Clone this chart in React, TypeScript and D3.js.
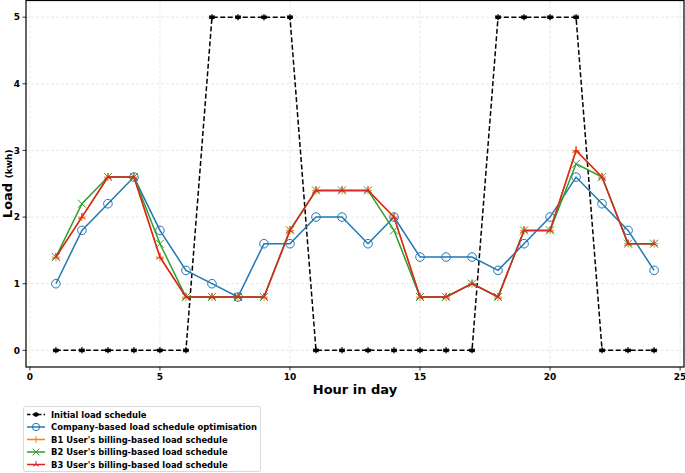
import React from "react";
import * as d3 from "d3";

const hours = d3.range(1, 25);
const initialLoad = [0, 0, 0, 0, 0, 0, 5, 5, 5, 5, 0, 0, 0, 0, 0, 0, 0, 5, 5, 5, 5, 0, 0, 0];
const companyLoad = [1.0, 1.8, 2.2, 2.6, 1.8, 1.2, 1.0, 0.8, 1.6, 1.6, 2.0, 2.0, 1.6, 2.0, 1.4, 1.4, 1.4, 1.2, 1.6, 2.0, 2.6, 2.2, 1.8, 1.2];
const b1Load = [1.4, 2.0, 2.6, 2.6, 1.4, 0.8, 0.8, 0.8, 0.8, 1.8, 2.4, 2.4, 2.4, 2.0, 0.8, 0.8, 1.0, 0.8, 1.8, 1.8, 3.0, 2.6, 1.6, 1.6];
const b2Load = [1.4, 2.2, 2.6, 2.6, 1.6, 0.8, 0.8, 0.8, 0.8, 1.8, 2.4, 2.4, 2.4, 1.8, 0.8, 0.8, 1.0, 0.8, 1.8, 1.8, 2.8, 2.6, 1.6, 1.6];
const b3Load = [1.4, 2.0, 2.6, 2.6, 1.4, 0.8, 0.8, 0.8, 0.8, 1.8, 2.4, 2.4, 2.4, 2.0, 0.8, 0.8, 1.0, 0.8, 1.8, 1.8, 3.0, 2.6, 1.6, 1.6];
const xTicks = [0, 5, 10, 15, 20, 25];
const yTicks = [0, 1, 2, 3, 4, 5];
const legendLabels = [
  "Initial load schedule",
  "Company-based load schedule optimisation",
  "B1 User's billing-based load schedule",
  "B2 User's billing-based load schedule",
  "B3 User's billing-based load schedule",
];

const W = 685, H = 473;
const left = 26, right = 684, top = 0.5, bottom = 367;
const FONT = "'DejaVu Sans', sans-serif";

type MarkerKind = "star" | "circle" | "plus" | "x" | "tri";

function Marker({ kind, x, y, color, scale = 1 }: { kind: MarkerKind; x: number; y: number; color: string; scale?: number }) {
  const s = 4 * scale;
  if (kind === "star") {
    const r0 = 3 * scale;
    const arms = [0, 60, 120].map((a) => {
      const r = (a * Math.PI) / 180;
      return `M${x - r0 * Math.sin(r)},${y - r0 * Math.cos(r)}L${x + r0 * Math.sin(r)},${y + r0 * Math.cos(r)}`;
    });
    return <path d={arms.join("") + `M${x - r0},${y}L${x + r0},${y}`} stroke={color} strokeWidth={1.4} fill="none" />;
  }
  if (kind === "circle") return <circle cx={x} cy={y} r={4.3 * scale} fill="none" stroke={color} strokeWidth={1} />;
  if (kind === "plus") return <path d={`M${x - s},${y}L${x + s},${y}M${x},${y - s}L${x},${y + s}`} stroke={color} strokeWidth={1} />;
  if (kind === "x") return <path d={`M${x - s},${y - s}L${x + s},${y + s}M${x - s},${y + s}L${x + s},${y - s}`} stroke={color} strokeWidth={1} />;
  const a = 4.2 * scale;
  return (
    <path
      d={`M${x},${y}L${x},${y - a}M${x},${y}L${x - a * 0.866},${y + a * 0.5}M${x},${y}L${x + a * 0.866},${y + a * 0.5}`}
      stroke={color}
      strokeWidth={1}
    />
  );
}

export default function App() {
  const x = d3.scaleLinear().domain([-0.15, 25.15]).range([left, right]);
  const y = d3.scaleLinear().domain([-0.25, 5.25]).range([bottom, top]);
  const line = d3
    .line<number>()
    .x((_, i) => x(hours[i]))
    .y((d) => y(d));

  const series: { data: number[]; color: string; marker: MarkerKind; dash?: string }[] = [
    { data: initialLoad, color: "#000000", marker: "star", dash: "5,2.5" },
    { data: companyLoad, color: "#1f77b4", marker: "circle" },
    { data: b1Load, color: "#ff7f0e", marker: "plus" },
    { data: b2Load, color: "#2ca02c", marker: "x" },
    { data: b3Load, color: "#d62728", marker: "tri" },
  ];

  return (
    <svg width={W} height={H} style={{ position: "absolute", left: 0, top: 0, background: "#fff" }} fontFamily={FONT}>
      {xTicks.map((t) => (
        <line key={"gx" + t} x1={x(t)} x2={x(t)} y1={top} y2={bottom} stroke="#c8c8c8" strokeOpacity={0.55} strokeDasharray="3,2" strokeWidth={0.8} />
      ))}
      {yTicks.map((t) => (
        <line key={"gy" + t} x1={left} x2={right} y1={y(t)} y2={y(t)} stroke="#c8c8c8" strokeOpacity={0.55} strokeDasharray="3,2" strokeWidth={0.8} />
      ))}
      {series.map((s, k) => (
        <g key={k}>
          <path d={line(s.data) || ""} fill="none" stroke={s.color} strokeWidth={1.5} strokeDasharray={s.dash} />
          {s.data.map((v, i) => (
            <Marker key={i} kind={s.marker} x={x(hours[i])} y={y(v)} color={s.color} />
          ))}
        </g>
      ))}
      <rect x={left} y={top} width={right - left} height={bottom - top} fill="none" stroke="#000" strokeWidth={1.2} />
      {xTicks.map((t) => (
        <g key={"tx" + t}>
          <line x1={x(t)} x2={x(t)} y1={bottom} y2={bottom + 3.5} stroke="#000" strokeWidth={0.8} />
          <text x={x(t)} y={bottom + 13} textAnchor="middle" fontSize={9} fontWeight="bold">{t}</text>
        </g>
      ))}
      {yTicks.map((t) => (
        <g key={"ty" + t}>
          <line x1={left - 3.5} x2={left} y1={y(t)} y2={y(t)} stroke="#000" strokeWidth={0.8} />
          <text x={left - 6} y={y(t) + 3.3} textAnchor="end" fontSize={9} fontWeight="bold">{t}</text>
        </g>
      ))}
      <text x={355} y={394} textAnchor="middle" fontSize={13} fontWeight="bold">Hour in day</text>
      <text transform={`translate(12,${y(2.5)}) rotate(-90)`} textAnchor="middle" fontWeight="bold">
        <tspan fontSize={13}>Load </tspan>
        <tspan fontSize={9}>(kwh)</tspan>
      </text>
      <rect x={23.5} y={406.5} width={237} height={65} fill="#fff" stroke="#d0d0d0" strokeWidth={0.8} rx={2} />
      {series.map((s, k) => {
        const ly = 414.5 + k * 12.5;
        return (
          <g key={"lg" + k}>
            <line x1={27} x2={45} y1={ly} y2={ly} stroke={s.color} strokeWidth={1.5} strokeDasharray={s.dash ? "3.5,2" : undefined} />
            <Marker kind={s.marker} x={36} y={ly} color={s.color} scale={0.85} />
            <text x={51} y={ly + 3} fontSize={8.4} fontWeight="bold">{legendLabels[k]}</text>
          </g>
        );
      })}
    </svg>
  );
}
